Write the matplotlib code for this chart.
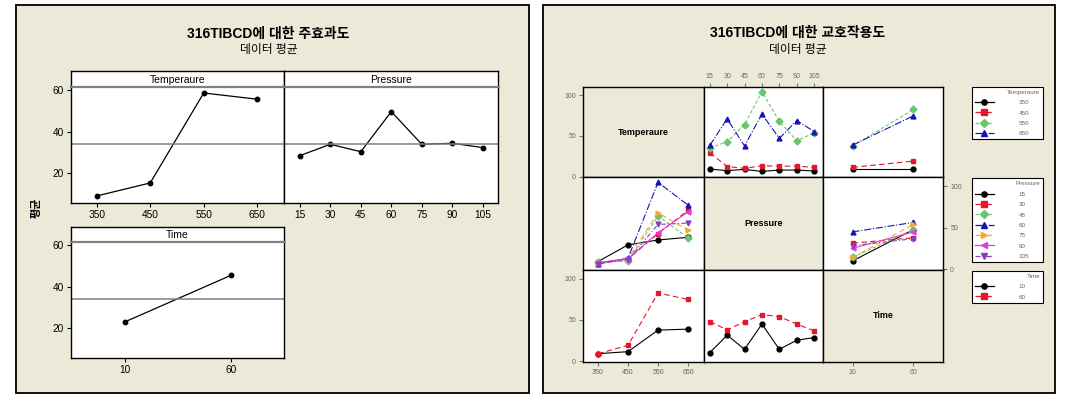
import matplotlib
matplotlib.use('Agg')
import matplotlib.pyplot as plt
from matplotlib.patches import Rectangle
from matplotlib.lines import Line2D
import numpy as np

plt.rcParams['font.family'] = ['Liberation Sans', 'Noto Sans CJK KR']

# ---- data ----
temp_levels = ['350', '450', '550', '650']
press_levels = ['15', '30', '45', '60', '75', '90', '105']
time_levels = ['10', '60']

temp_means = [8.9, 15.2, 58.7, 55.7]
press_means = [28.4, 33.9, 30.3, 49.7, 33.9, 34.4, 32.3]
time_means = [23.0, 45.5]
grand_mean = 34.2

# rows: Temperature, cols: Pressure
temp_press = [[9.4, 7.5, 9.0, 6.5, 8.2, 8.2, 7.0],
              [29.5, 12.5, 10.3, 13.5, 13.0, 13.0, 11.5],
              [35.3, 43.0, 64.0, 104.5, 68.0, 44.0, 54.0],
              [38.5, 71.0, 37.8, 77.0, 47.0, 69.0, 55.5]]
# rows: Time, cols: Temperature
time_temp = [[9.0, 11.5, 37.6, 38.8],
             [9.0, 19.2, 82.6, 74.8]]
# rows: Time, cols: Pressure
time_press = [[10.2, 31.5, 14.3, 45.0, 14.3, 25.3, 28.6],
              [47.8, 38.0, 47.8, 56.4, 54.0, 45.0, 36.8]]

# ---- styles ----
BG = '#ece9d8'
W, H = 1068, 403
temp_styles = [('black', 'o', '-'), ('#e2182b', 's', (0, (5, 3))),
               ('#6cc46c', 'D', (0, (3, 2))), ('#1414b4', '^', '-.')]
press_styles = temp_styles + [('#f5a833', '>', (0, (5, 3))),
                              ('#e03ce0', '<', '-'),
                              ('#8a3cc8', 'v', (0, (4, 2, 1, 2)))]
time_styles = [('black', 'o', '-'), ('#e2182b', 's', (0, (5, 3)))]


def px(x0, y0, x1, y1):
    # pixel box (top-left origin) -> figure fraction
    return [x0 / W, 1 - y1 / H, (x1 - x0) / W, (y1 - y0) / H]


fig = plt.figure(figsize=(10.68, 4.03), dpi=100)
fig.patch.set_facecolor('white')
for x0, x1 in [(16, 529), (543, 1055)]:
    fig.add_artist(Rectangle((x0 / W, 1 - 393 / H), (x1 - x0) / W, 388 / H,
                             transform=fig.transFigure, fc=BG, ec='black', lw=1.3,
                             zorder=-5))

# ================= main effects (left) =================
fig.text(268 / W, 1 - 34 / H, '316TIBCD에 대한 주효과도', ha='center', va='center',
         fontsize=10, fontweight='bold')
fig.text(269 / W, 1 - 50 / H, '데이터 평균', ha='center', va='center', fontsize=8.5)
fig.text(37 / W, 1 - 208 / H, '평균', ha='center', va='center', rotation=90,
         fontsize=8, fontweight='bold')

main_panels = [
    ('Temperaure', temp_levels, temp_means, (71, 71, 87, 284, 203), (-0.48, 3.5), True),
    ('Pressure', press_levels, press_means, (284, 71, 87, 498, 203), (-0.52, 6.5), False),
    ('Time', time_levels, time_means, (71, 227, 242, 284, 358), (-0.51, 1.5), True),
]
for name, levels, means, (x0, ys, y0, x1, y1), xl, show_y in main_panels:
    st = fig.add_axes(px(x0, ys, x1, y0))
    st.set_xticks([]); st.set_yticks([])
    st.text(0.5, 0.45, name, ha='center', va='center', fontsize=7.5, transform=st.transAxes)
    for s in st.spines.values():
        s.set_linewidth(1)
    ax = fig.add_axes(px(x0, y0, x1, y1))
    xs = np.arange(len(levels))
    ax.plot(xs, means, color='black', lw=0.9, marker='o', ms=3.2)
    ax.axhline(grand_mean, color='#808080', lw=1.1)
    ax.set_xlim(*xl)
    ax.set_ylim(5.5, 61.6)
    ax.set_xticks(xs)
    ax.set_xticklabels(levels)
    ax.spines['top'].set_color('#808080')
    ax.spines['top'].set_linewidth(1.6)
    for k in ['left', 'right', 'bottom']:
        ax.spines[k].set_linewidth(1)
    ax.tick_params(direction='out', length=3, labelsize=7.3, pad=2)
    if show_y:
        ax.set_yticks([20, 40, 60])
    else:
        ax.set_yticks([])

# ================= interaction plot (right) =================
fig.text(798 / W, 1 - 33 / H, '316TIBCD에 대한 교호작용도', ha='center', va='center',
         fontsize=10, fontweight='bold')
fig.text(798 / W, 1 - 50 / H, '데이터 평균', ha='center', va='center', fontsize=8.5)

factors = [('Temperaure', temp_levels, temp_styles, (-0.5, 3.52)),
           ('Pressure', press_levels, press_styles, (-0.35, 6.53)),
           ('Time', time_levels, time_styles, (-0.48, 1.49))]
tp = np.array(temp_press)
tt = np.array(time_temp)
tpr = np.array(time_press)
tables = {(0, 1): tp, (1, 0): tp.T, (0, 2): tt.T, (2, 0): tt,
          (1, 2): tpr.T, (2, 1): tpr}
col_x = [583, 703.7, 823.3, 943.3]
row_y = [86.7, 177.3, 270, 361.7]

for i in range(3):
    for j in range(3):
        ax = fig.add_axes(px(col_x[j], row_y[i], col_x[j + 1], row_y[i + 1]))
        name, xlev, _, xl = factors[j]
        ax.set_xlim(*xl)
        ax.set_ylim(-0.7, 110.5)
        ax.set_xticks([]); ax.set_yticks([])
        for s in ax.spines.values():
            s.set_linewidth(1)
        ax.tick_params(direction='out', length=3, labelsize=5, pad=2,
                       colors='#777777', labelcolor='#666666')
        if i == j:
            ax.set_facecolor(BG)
            ax.text(0.5, 0.5, factors[i][0], ha='center', va='center', fontsize=6.5,
                    fontweight='bold', transform=ax.transAxes)
        else:
            xs = np.arange(len(xlev))
            for row, (c, m, ls) in zip(tables[(i, j)], factors[i][2]):
                ax.plot(xs, row, color=c, marker=m, ls=ls, lw=0.8, ms=3.5)
        # axis ticks in Minitab's alternating layout
        if (i, j) in [(0, 0), (2, 0)]:
            ax.set_yticks([0, 50, 100])
        if (i, j) == (1, 2):
            ax.yaxis.tick_right()
            ax.set_yticks([0, 50, 100])
        if (i, j) in [(2, 0), (2, 2)]:
            ax.set_xticks(np.arange(len(xlev)))
            ax.set_xticklabels(xlev)
        if (i, j) == (0, 1):
            ax.xaxis.tick_top()
            ax.set_xticks(np.arange(len(xlev)))
            ax.set_xticklabels(xlev)

# legends
leg_boxes = [(86.7, 140), (178.3, 261.7), (270.7, 303.3)]
for (name, levels, styles, _), (y0, y1) in zip(factors, leg_boxes):
    handles = [Line2D([], [], color=c, marker=m, ls=ls, lw=0.9, ms=3.8) for c, m, ls in styles]
    lg = fig.legend(handles, levels, title=name, loc='upper left',
                    bbox_to_anchor=(971.7 / W, 1 - y0 / H, 71.6 / W, 0), mode='expand',
                    borderaxespad=0, fontsize=4.5, title_fontsize=4.5, alignment='right',
                    handlelength=3, handletextpad=4.0, labelspacing=0.8, borderpad=0.5,
                    fancybox=False, edgecolor='black', framealpha=1)
    lg.get_frame().set_linewidth(0.8)
    for t in lg.get_texts():
        t.set_color('#666666')
    lg.get_title().set_color('#666666')

fig.savefig('out.png', dpi=100)
